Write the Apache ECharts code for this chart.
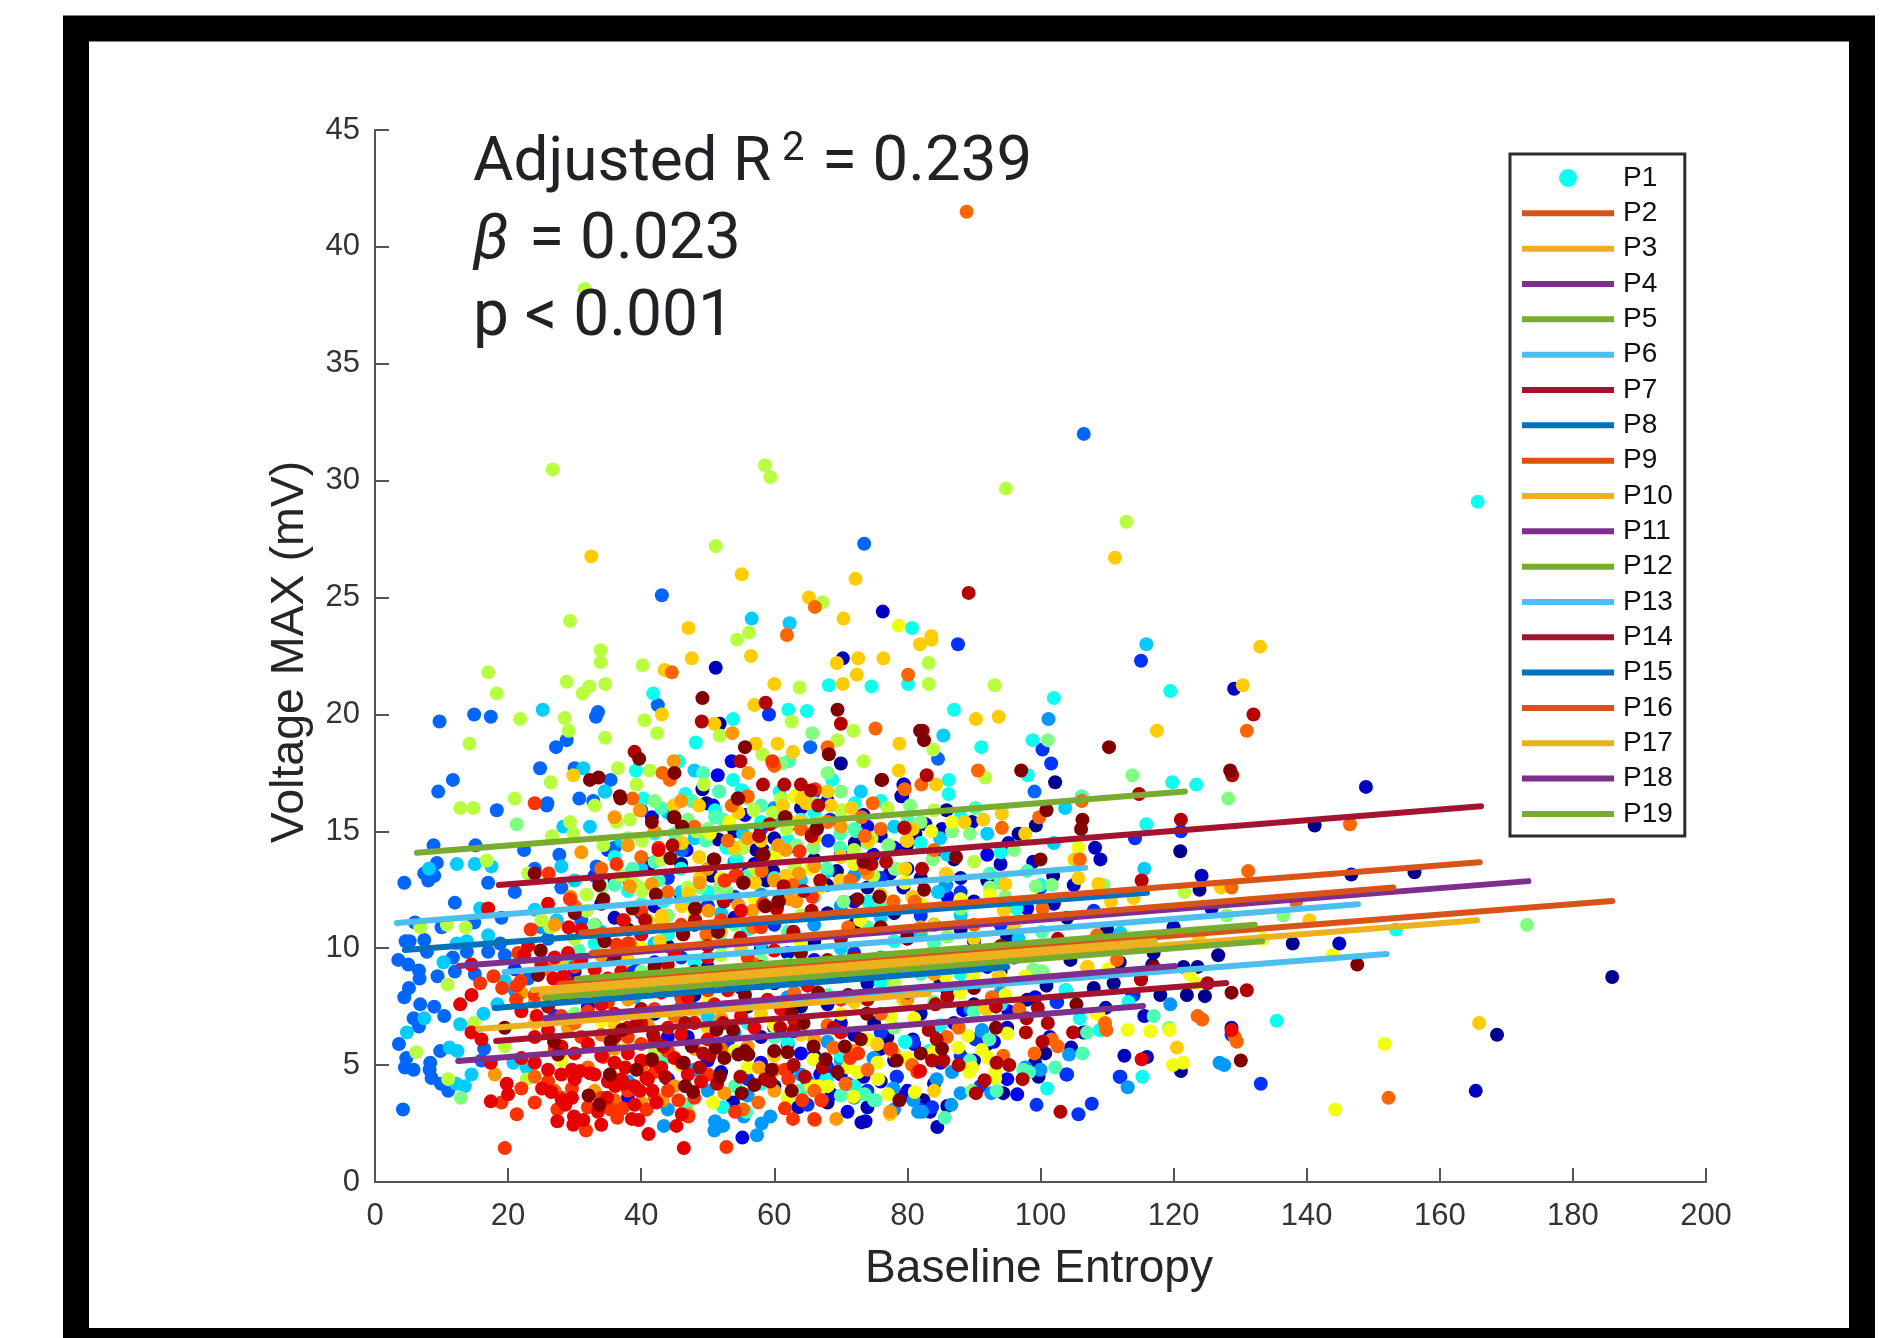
<!DOCTYPE html>
<html>
<head>
<meta charset="utf-8">
<title>Voltage MAX vs Baseline Entropy</title>
<style>html,body{margin:0;padding:0;background:#fff}#chart{width:1899px;height:1338px}</style>
<script src="https://cdn.jsdelivr.net/npm/echarts@6/dist/echarts.min.js"></script>
</head>
<body>
<div id="chart"></div>
<script>
const navy = [49.2,16.8,51.8,19.6,70,17.9,79.4,17,79.1,16.5,73.4,15.7,72.1,14.5,49.8,16.2,51.6,14.65,57.3,14.2,79.9,14.4,77.4,13.2,69.4,13.3,59.8,13.3,41.3,13.6,50.6,13.1,58.8,12.9,67.9,12.7,85.9,15.9,102.2,17.1,121,14.15,141.2,15.25,146.7,13.15,156.2,13.25,99.3,15.25,87,13.8,96.7,14.9,101.9,13.1,123.9,12.5,126.7,9.7,137.9,10.2,121.5,9.2,123.6,9.2,118,8,122,8,124.7,7.95,111,8.5,104.5,9.5,117,9.8,111.9,9.4,94.4,3.8,82.4,3.5,86,3.25,100.9,8.4,100.7,5.5,99.7,4.5,121.1,4.75,185.9,8.77,168.6,6.3,106.4,6.4,116.8,9.3,60,8.5,64,7.5,70,8.8,75,6.8,80,9.5,85,8.5,90,7.6,95,10.5,88,10.8,78,11.5,72,11,66,10.3,58,10,50,10.6,44,10.1,38,10.8,55,9,48,8,42,7.2,62,15.2,66,13.8,74,12.6,82,13,92,12.9,96,11.8,104,11.3,110,10.8,46,13.6,54,15,34,11.9,30,10.6,62,4.8,68,3.4,77,6.2,92,5.9,98,7.8,108,8.3];
const darkBlue = [51.2,22,70.3,22.4,76.3,24.4,129.1,21.1,79.5,17,79.2,16.5,73.1,2.55,73.7,2.6,63.6,3.2,53.8,3.4,73.4,4.5,80.8,6.1,79.4,3.7,112.6,5.4,116,5.35,115.6,7.1,84.5,2.35,109.8,7.45,104.6,5.75,101.4,6.2,95,6.6,106.7,6.4,99.2,5.1,83.4,3,124.2,13.1,108.2,14.3,109,13.8,98.9,13.7,95.2,14.5,89.7,15.4,85.2,15.1,82.7,15.3,81.2,14.9,77.4,13.2,79.4,12.6,105,12.7,120,10.9,144.9,10.2,125.7,11.7,148.9,16.9,165.4,3.9,128.7,6.6,68,7.6,72,6.3,76,5.7,82,7.2,86,8.2,92,9.2,62,9.8,56,7.5,47,6.2,52,4.7,60,4.1,66,5.4,70,4.6,74,8.5,84,11,90,12,62,12.2,54,11.3,46,12.2,36,11.3,60,14.7,64,16,68,11.5,76,14.8,80,10.5,88,13,94,13.6,102,11.9,106,10.2,42,11.8,38,13,57,13.6,50,9.2,58,6.2,64,3.9,74,3.2,78,5.2,84,4.2,90,5.2];
const blue = [53.6,18,51.5,17.4,74.9,14,46.8,14.2,41.6,15.6,46.1,15.2,55.6,15.7,55.2,1.9,78.4,4.5,68.6,3.75,66.9,4.6,103.9,4.6,96.5,3.75,95,4.4,102.5,7.7,99.2,7.9,95.2,7.3,88.4,7.35,58.3,14.2,50.8,16.1,32,7.5,28,7.9,35,9.6,40,10.6,60,6.6,64,5.5,70,6.8,76,4.3,80,3.9,85,5.1,58,5.1,50,5.2,44,4.4,66,9.5,72,12,80,13.4,86,12.2,90,10.3,94,9,56,13.2,62,14.3,68,16.3,74,15.2,78,14.3,84,14.1,92,14,98,11.7,36,12.9,42,9.4,30,9,48,11,55,8.3,71,3,81,5.9,87,6.8,93,6,44,6.2,38,3.6];
const royal = [59.2,20,87.6,23,115.1,22.3,100.3,18.5,101.6,17.9,68.1,14.6,68.4,15.5,112,4.5,107.7,3.35,105.7,2.9,99.4,3.3,114,8,90.2,6.1,83.7,3.2,114.2,14.7,121.1,15,85.8,12.7,102.4,7.7,113.8,8,133.1,4.2,111.9,4.5,104,4.6,78.4,4.5,80.9,6,74,3.9,68,4.9,62,5.9,56,4.4,33,13.1,40,11.5,46,9.6,54,12.2,60,11,66,12.2,72,9.8,78,8.2,84,6.6,88,5.4,128.7,6.3,21,9.1,27,7.1,35,14.2,44,13,50,11.8,58,15.1,66,16.7,70,14,76,13,82,11.4,88,12.4,94,11,100,12.6,108,11.6,39,9.1,48,7.4,53,6,65,3.3,71,4.2,76,6.4,82,3.1,91,4.1];
const azure = [43.1,25.1,9.7,19.7,14.9,20,17.4,19.9,33.2,19.9,33.5,20.1,28.8,18.9,27.2,18.6,24.8,17.7,30,17.7,11.7,17.2,9.5,16.7,42.5,20.4,65.4,18.6,35.4,17.2,30.7,16.4,32.8,16.3,25.9,16.2,73.5,27.3,106.5,32,84.6,18.1,99.1,16.7,4.4,12.8,8.8,14.4,9.3,13.65,7.4,13.2,8.9,13.1,15.1,14.4,17,12.8,12,11.95,5.2,10.3,7.4,10.35,6,11.1,10,10.9,3.5,9.5,5,9.3,6.6,9.05,6.7,8.7,9.4,8.8,5.1,8.3,4.4,7.9,6.8,7.6,8.9,7.5,10.4,7.1,5.8,7,6.6,6.65,3.6,5.9,4.7,5.3,4.5,4.9,5.8,4.8,8.3,5.1,8.2,4.8,8.5,4.45,9.9,4.2,11,3.9,4.2,3.1,9.8,5.6,16.4,5.7,12,9,11.7,9.6,13.8,9.85,7.8,9.85,16,5.2,19.5,9.7,17,9.85,14.9,11.1,18.8,10.2,15,8.9,27.7,14,22.4,14.2,18.3,15.9,25.8,16.1,33.3,13.5,46.1,14.2,4.6,10.3,8,12.9,19,11.3,21,12.4,24,13.4,28,12.6,31,11.2,36,14.3,40,15.9,23,8.7,26,10.4];
const sky = [43.4,2.4,51.1,2.6,52.3,2.4,51,2.2,59.4,2.8,58.1,2.5,57.4,2,55.4,2.8,81.6,3,77.9,4,74.9,5.3,113.1,4.05,119.5,7.6,104.3,5.45,100,4.8,84.4,4.4,86.6,3.3,82.2,3,91.2,6.5,86.7,4.7,92.6,3.8,89.5,7.4,103.8,8.2,126.9,5.1,97.7,4.9,101.2,19.8,127.6,5,85.7,12.65,80.9,3.5,91.2,6.45,25,10.9,21,8.2,60,5.5,64,4.6,68,6,72,3.6,48,4.8,54,6.4,42,8.7,76,9.6,84,9.9,70,11.8,62,7.9,56,3.7,65,4.3,70,5.2,78,3.1,88,3.8,94,8.1,38,4.3,44,3.1,50,3.9,46,7.5,33,11,58,12.3,66,11,72,13.1,60,16,54,13.7];
const capri = [25.2,20.2,56.6,24.1,62.3,23.9,31.3,17.7,34.5,16.7,48,17.6,85.4,19.1,8.1,13.4,12.3,13.6,15,13.6,17.5,13.5,17,10.55,10.3,9.4,7.4,7,4.8,6.4,11.2,5.75,12.4,5.6,16.3,7.2,14.5,4.6,13.5,4.1,12.8,6.75,12.2,4.2,15.8,11.7,13.8,10.3,12.3,10.2,19.5,8.6,18.4,7.6,28,13.5,32.3,15.2,28.3,15.2,34.6,16.7,24,11.65,27.3,11.2,20.8,5.1,22.8,4.9,102,14.5,103.7,16,84.9,14.7,115.6,13.4,84.6,12.4,96.7,10.4,112,10.65,115.9,23,55.3,14.9,40,13.4,46,12.4,52,11.5,58,10.2,64,9.3,70,10,76,11.3,82,10.6,88,11.4,92,9.6,42,10.2,37,14.6,44,15.8,48,14.7,60,15.4,64,12.9,68,13.3,73,16.7,78,15.2,86,14,92,14.9,30,12.9,34,10.7,39,7.9,50,7.1];
const cyan = [41.8,20.9,68.2,21.25,62.1,20.2,64.9,20.15,53.8,19.8,48.2,18.8,45.6,18,39.2,17.6,53.8,17.2,68.7,17.2,46.6,16.6,55.1,16.75,40.3,16.4,80.7,23.7,74.6,21.2,80.1,21.3,87,20.2,91.1,18.6,86.2,17.2,86.2,16.6,102,20.7,98.8,18.9,98.1,17.4,119.5,21,119.8,17.1,123.4,17,165.7,29.1,115.9,15.3,135.5,6.9,115.3,4.5,113.2,7.7,105.9,7,109,6.5,79.7,6,103.8,8.2,96.4,11.7,153.4,10.8,52.3,3.2,67.8,4.4,79.6,6,101,4,84.9,6.7,83.2,5.6,108.9,6.5,60.8,16.7,72.1,16.2,72.3,15,51.1,15.9,52.8,14.3,54.3,13.8,71.9,13.9,38.5,13.3,38,12.45,43.3,12,74.1,12,55.2,16.75,60,13,56,10.8,48,9.4,66,8.6,78,10.3,88,8.9,94,7.6,62,6,58,4.2,36,13.9,42,14.9,46,13.4,50,12.4,58,15.4,62,14.6,66,15.8,76,16.3,82,14.5,88,15.6,94,14.1,100,12.7,33,10.2,40,8.2,56,6.8,70,5.4,72,4.1,76,8.5,84,9.1,44,10.6,52,10.2,29,9.6];
const mint = [49.3,17.5,51.7,16.7,62.2,18,47.6,16.3,43,16,51.1,15.6,49.7,14.6,42,13.7,38.7,13.4,42.6,12.9,69.9,14.9,69.9,14.3,54.3,14.15,52.3,15.5,67.9,13.4,106.2,16.5,90.2,16,92.4,13.2,117,7.1,107,6.4,106.3,5.5,102.2,4.9,93.4,3.9,97.4,4.8,98.3,4.7,92.3,6.1,75.2,3.5,85.6,2.75,89.4,5.2,100.2,10.7,73.6,3.75,75,3.5,55.8,3,46.8,3.3,54.1,4.1,43.6,5.3,30.6,9.9,51.7,16.7,38.6,13.3,46.6,3.3,62,10.7,76,11.8,84,10.2,68,8,56,8.6,46,6.8,60,6.2,36,12.7,40,11.9,45,14.9,48,12,56,13.1,58,16.1,64,15.5,72,15.1,80,15.6,86,13.1,94,12.8,98,13.3,66,12.2,74,10.9,82,8.9,90,7.3,52,8.9,34,8,64,3.9,70,3.7];
const pale = [65.7,19.2,68,17.5,61.1,17.9,55.3,14.4,77.1,14.4,65.9,14.3,78.1,13.4,52.8,12.45,70.4,12,51.8,12.6,63.3,14.4,48.8,12.6,74.9,13.1,101.1,18.9,113.8,17.4,128.2,16.4,80.4,16.1,77.2,14.4,83.8,13.8,99.3,12.65,101.7,12.7,89.4,14.9,92.4,12.6,94.7,12.2,109.5,12.7,128,11.4,136.5,11.4,98.9,9.1,100.3,9,119.3,6.6,89.7,3.9,86.7,15,78.4,13.4,173.1,11,21.3,15.3,12.9,3.6,32.9,11,99.2,9,100,9,44,11.4,58,9.5,72,9,86,10.5,40,9,34,12.6,38,14.7,42,16.3,47,15.5,50,15.1,56,16.4,60,14.1,66,16.2,70,16.7,74,14.5,82,15.4,88,11.7,96,14.2,54,11,62,9.3,78,6.6,84,7.7,48,7.3,30,7.2];
const lime = [26.7,30.48,58.6,30.66,59.4,30.15,51.2,27.2,29.3,24,33.9,22.75,33.9,22.24,40.2,22.1,28.8,21.4,32.2,21.2,31.2,20.9,34.6,21.3,17,21.8,18.3,20.9,21.8,19.8,28.5,19.85,29.1,19.3,34.6,19,14.2,18.75,40.5,19.75,42.4,19.2,54.4,23.2,56.2,23.5,63.8,21.15,67.2,24.8,62.6,19.7,51.8,19.1,71.9,19.3,69.5,18.9,58.2,18.3,73.4,18,36.5,17.7,41.3,17.6,39.3,17,26.4,17.1,21,16.4,49.4,17,94.8,29.66,112.9,28.24,83.2,22.2,83.2,21.3,93.1,21.25,83.9,18.5,91.7,17.3,31.5,38.2,12.8,16,14.8,16,16.8,13.75,23,13.2,6.8,10.9,10.8,11,13.6,10.9,25,11.2,26.3,10.9,31.8,11.6,31.8,12.3,34.3,14.4,40.1,14.6,29.8,14.9,26.6,14.8,29.3,15.4,38.3,15.5,36.3,15.4,10.9,8.45,14.9,6.8,6.2,5.55,11,4.4,19.5,5.8,22.8,4.4,56.9,15.9,48.3,15,55.3,14.3,40.1,12.45,121.6,12.4,74.8,13.1,61.8,15.1,59.8,15.8,61,16.4,39.8,12.6,38.8,12.8,79.6,13.4,74.6,14.7,70.1,15.9,46,10.9,52,9.7,64,11.4,70,9.4,78,8.5,33,16.1,37,13.1,43,13.8,47,12.6,54,16.1,57,13.4,63,13.5,67,15.4,72,14.2,77,16,84,15.9,90,13.7,30,10.4,35,8.7,42,5.6,50,10.3,58,8.6];
const yellow = [78.7,23.8,50.8,3.4,75.6,4.4,75.5,5.1,72.6,4.7,71.1,4.9,66.6,4.1,65.5,4.1,71.9,3.65,77.1,3.75,81.1,3.85,65.9,5.25,75.4,5.9,113.1,6.5,116.5,6.45,119.4,6.5,119.9,5,121.4,5.1,89.1,6.25,95,6.35,87.6,5.75,91.2,5.65,92.2,5.3,89.7,4.9,89.3,4.7,93.2,4.75,93.2,4.45,108.4,7.2,122.4,8.9,123.4,8.5,110.2,9.1,89.9,8.8,93.9,8.8,97.7,8.8,86.7,15.4,83.6,15,79.6,13.4,105.7,14.3,92.4,12.3,143.9,9.7,133.4,10.4,85.7,8.8,87.9,8.1,94.7,8,91.7,7.4,108.7,7.2,77.5,7.1,151.7,5.9,144.3,3.1,63.1,16.5,53.2,15.4,50.3,14.9,65.4,13.4,79.6,12.8,72.9,11.2,63.3,15.4,81,7,70,7.2,60,8.6,54,5.6,46,5,38,5.9,64,10.2,76,9.4,48,11.5,52,13,57,12.1,60,13.9,67,12.6,72,13.6,82,11.9,88,12.1,56,4.9,60,6.7,62,3.6,68,4.1,74,6.1,80,5.3,84,5.6,40,10,44,9,34,6.9,28,5.2,50,7.8];
const gold = [111.2,26.7,81.9,23,83.6,23.35,83.6,23.2,76.4,22.4,90.3,19.8,93.7,19.9,78.8,18.75,78.7,17.6,84.3,17,117.5,19.3,133,22.9,130.4,21.25,32.5,26.76,55.1,26,72.2,25.8,65.2,25,70.4,24.1,47.1,23.7,47.6,22.4,56.5,22.5,43.5,21.9,72.6,22.4,69.4,22.2,72.4,21.7,70.3,21.3,60,21.3,57,20.4,43.1,20,51,19.6,60.5,18.75,57.2,18.75,62.8,18.4,29.8,17.4,68,16.7,94.2,15.75,91.4,15.5,88.6,15.4,97.7,14.9,80.8,15.1,80,14.6,85.8,13.2,94.7,12.75,105.1,13.8,105.7,13,108.7,12.75,114,12.15,110.6,12,127.1,12.6,140.4,11.2,79.7,13.4,80.7,12.2,94.5,11.6,107,9.2,93.7,8.8,120.5,5.75,75.5,5.9,91.7,7.45,79.4,7.8,77.4,2.9,165.9,6.8,107.1,9.2,91.8,7.4,123.8,10.5,64.1,16.4,64.8,16.2,54.6,15.8,48.7,16.1,44.9,16.1,61.3,16.1,68.5,16.1,71.6,16,63.8,15.4,79.9,14.6,74.1,14.6,48.7,13.9,46.1,14.5,61.7,13.1,57.1,12.8,48.8,13,69.9,12.9,47.1,12.35,46.1,11.8,43.1,11.4,43.1,11.2,42.8,10.3,36,6.7,28,9.3,55,10,60,5.4,68,9.2,58,7.2,38,9.5,41,11.2,52,10.7,54,14.3,58,14.6,66,14.7,70,13.9,76,12.3,84,11,90,10.4,96,10.9,44,8.2,50,6.6,64,6.3,72,7.7,78,5.5,84,3.9,24,6.8];
const amber = [53.7,19.2,44.9,18,56.1,17.5,39.8,15.9,38,14.4,41.6,12.75,38.3,12.65,60.6,14.4,61.7,14.2,63.7,13.2,48.8,12.8,54.6,11.85,56.7,11.6,50.1,11.6,62.3,12.1,63.3,12,77.9,12,69.3,2.7,77.4,3,52.5,3.8,57.7,4.9,43.2,3.5,47.1,2.9,18,4.6,24,7.7,27,11,29.4,12.2,34,9.7,38,7.8,41,6.7,47,8.3,52,7,56,5.8,60,3.9,66,6.1,72,5.6,80,7.8,84,8.9,31,14.1,36,15.6,42,15,46,16.3,50,13.4,56,14.7,60,12.9,66,13.5,70,15.2,74,13.2,82,10.9,88,9.7,36,5.7,40,3.4,45,4.1,48,5.7,33,3.9,29,6.6,22,8.1,54,8.4];
const tangerine = [44.6,21.8,61.9,23.4,66.1,24.6,68,18.6,43.2,17.5,44.3,17.2,60,17.8,38.7,16.4,75.2,19.4,80.1,21.7,90.6,17.6,79.6,16.8,82.1,17,131,19.3,88.9,41.5,94.2,15.15,99.8,15.6,106.2,16.3,105.9,13.8,131.2,13.3,128.7,12.6,77.9,12,100.3,11.7,108.5,10.55,138.4,12,111.5,9.5,123.6,7.1,124.3,6.95,109.7,6.8,109.9,6.5,129.5,6,129.2,6.2,94.4,5.4,99.1,5.5,101.7,6.1,102.6,5.8,87.7,6.6,80.7,5,96.8,7.4,92.7,7.9,85.9,6.2,146.5,15.3,152.3,3.6,70.7,4.2,57.6,3.4,66.1,2.65,55.3,3.1,67.1,3.5,68.9,5.75,53,14.6,73.6,14.8,74.8,16.2,73.1,15.6,73.6,13.4,58.1,13.3,62.8,12.7,81.1,12,71.4,12.9,71.1,10.9,56.8,10.9,49.8,10.6,38.3,10.2,56,16.5,53.6,16.1,59.8,17.9,26,9.1,30,6.8,34,6.3,40,4.9,45,7.1,52,5.7,57,9.3,63,8.1,68,6.7,76,7.2,30,11.8,34,13.4,40,13.9,44,12.4,48,15.2,64,15.1,68,15.4,76,15.1,84,14.2,90,11,32,4.9,36,3.5,42,3.6,27,3.9,24,4.5,60,4.8,66,3.9,74,4.8];
const vermil = [59.7,18,66.1,16.8,24,16.2,19.5,1.45,52.8,1.5,31.7,2.2,21.3,2.9,19,3.4,22,4,29.6,4,27.4,3.1,36.4,2.75,37.2,3.15,35.4,3.1,40.8,3.1,45.6,3.5,47.1,2.8,61.6,3.15,62.8,2.7,66,2.7,64.2,3.5,67.1,3.5,17.8,8.8,15.8,8.5,19.1,8.3,21.3,8.4,21.9,8.6,26.1,13.2,23.4,10.8,29.3,12.1,36.3,13.6,21.5,9.8,21.2,7.8,36.3,10.15,38,10.2,52.6,12.9,54.4,13.1,34.3,5.35,54.1,3,62.1,4.4,61.6,4.8,77.6,5.7,71.4,5.3,72.6,5.5,77.4,5.7,81.5,4.7,63.8,14.15,52.5,12.9,54.1,13.1,65.6,14.9,42.6,14.3,65.7,12.2,37.4,11.2,60.3,11.7,58.3,11.9,62.8,10.7,27,5.7,31,6.2,35,7.7,40,5.9,44,3.9,50,8.2,56,9.6,64,9.2,70,7.8,24,3.4,26,4.3,28,3.6,32,3.2,34,3.6,38,3.9,42,4.7,44,5.6,48,3.6,50,4.6,46,7.9,42,7.4,38,6.2,32,7.3,28,7.1,24,8,30,9.2,34,10.6,40,11.6,46,11,52,11.2,58,10.9];
const red = [46.4,1.45,41.1,2.05,17.4,3.45,20,3.75,19.8,4.2,25.1,4,26.5,3.85,27.4,2.6,29.8,2.45,29.9,2.8,31.3,2.65,34,2.45,38.6,2.7,39.6,2.65,33.5,3,39,3.3,42.3,3.4,45.3,2.4,46.1,2.9,28.6,3.3,28.1,3.5,29.6,3.6,34.9,3.6,37.4,4.2,36.1,4.1,39.8,3.9,41.7,3.9,29.6,4.8,30.8,4.75,32.3,4.65,37.6,4.9,40.8,4.45,14.5,9.3,14.5,8,12.8,7.6,17,11.7,29.1,10.9,22.4,9.7,14.5,6.4,16,6.1,17.4,5.1,24.3,7.1,22,7.3,26.8,8.7,28.3,8.8,42.6,14.2,37.3,11.2,115.2,5.25,81.9,4.75,128.7,6.5,30,8,32,8.2,34,7.6,36,7.2,38,6.6,40,6.8,42,6.1,44,6.6,46,6.3,48,6.8,50,6.1,24,6.2,26,6.5,28,5.8,30,5.5,32,5.9,34,5.4,36,5.1,38,5.5,40,5.2,22,5.3,24,5.1,26,4.8,28,4.6,30,4.4,33,4.6,35,4.3,37,4.4,39,4.1,41,4.4,43,4.9,45,5.3,47,4.6,49,4.3,25,9.3,27,9.6,29,9.8,31,9.5,33,9.1,35,8.7,37,9,39,8.3,41,8.6,43,8.1,45,8.5,47,7.9,49,8.4,51,7.6,53,8.2,55,7.1,57,6.6,59,7.8,61,7.4,63,6.9,23,10.1,26,11.9,31,10.8,36,9.6,40,10.6,45,9.8,50,9.6,55,11.6,60,9.9,65,8.4,70,6.4];
const crimson = [58.7,20.5,49.1,19.7,70,19.6,39,18.4,54.9,18,58.3,17,61.5,17,64,17,65.5,16.75,89.2,25.2,82.3,19.3,82.9,17.4,132,20,128.8,17.4,114.8,16.6,66.6,16.1,57.7,14.8,59.3,15.3,54.6,16.4,65.6,14.8,44.7,14.4,66.9,12.9,61.4,12.65,64.4,12.45,52.4,12,48.1,11.7,48.1,11.2,65.6,11.6,60.4,11.7,54.9,10.45,62.9,10.7,46.3,10.6,40.6,11.2,43.6,4.5,48.8,4.9,46.1,5.1,41.6,5.2,54.9,4.5,58.6,4.4,59.4,4.3,51.4,4.2,64.6,4.5,62.9,5,67.3,4.9,50.3,5.4,49.3,5.5,43.3,5.8,56,5.45,60.9,6.6,62.9,6.45,68.9,6.6,52.3,6.8,46.6,6.8,39.3,6.75,41.8,6.3,90.3,3.8,103,3,91.6,4.35,97.3,4.4,95.3,5,93.4,5.1,87.7,5,83.7,5.2,85.4,5.2,100.3,6,104.9,6.4,101.1,6.8,97.8,6.4,93.3,7.5,99.6,7.45,97.9,7,125.1,8.5,115.1,8.7,83.2,6.5,84.4,6.1,84.2,7.6,121.1,15.5,115.2,12.9,79.6,15.15,76.8,13.7,82.2,13.4,115.1,8.66,131,8.2,102.6,10.4,79.5,15.15,74.6,13.6,75.8,12.2,72,9.6,78,9,88,9.4,94,10.1,70,10.4,36,6.2,40,7.4,44,9.3,50,10.1,54,8.7,58,9.2,62,8.7,68,9.5,74,7.8,80,8.1,86,7.9,30,8.5,26,7.5];
const maroon = [49.2,20.7,69.5,20.2,55.6,18.6,39.7,18.1,68.2,18.3,45,17.5,32.3,17.2,33.6,17.3,36.8,16.5,76.2,17.2,82.5,18.9,97.1,17.6,110.3,18.6,128.5,17.6,55.6,5.6,54.6,5.45,56.1,5.45,46.6,4.1,47.8,3.85,33.7,3.3,32.1,3.7,35.4,6,37.1,6.5,19.5,6.6,26.9,6,27.5,5.45,24,13.2,41.6,15.4,45,15.6,46.2,15.2,44.4,13.85,42.2,12.3,34.3,12.1,33.7,12.7,34.5,10.3,24.9,9.9,24.5,8.85,55.4,12.8,58.4,14,51,13.8,48.1,11.7,51.6,10.7,58.6,11.8,60.6,12,72.5,12.1,61.7,15.6,66.4,15.15,52.5,5.3,51.2,5.75,60,5.6,62,5.55,59.6,4.8,57,4.15,55.1,3.8,62.6,3.9,69.5,4.7,67.7,5.25,73,6.1,65.9,5.8,70.6,5.8,64.4,6.8,62.6,7.2,71.1,8,73.9,7.2,66.6,8.1,55.6,8,53.8,6.5,51.3,6.5,46.4,5.1,41.6,5.25,47.6,5.8,51.8,4.5,35.3,4.6,39.3,4.8,100.9,15.9,106.3,15.5,106.1,15.1,100,13.8,82.5,12.5,87.3,13.9,75.8,12.2,128.7,8.1,105.4,7.6,93.3,6.6,85.2,5.7,82,5.5,78.8,3.5,147.6,9.3,117,9.2,130.1,5.2,78.4,5.2,54.5,16.4,44.9,15.6,50.9,13.8,58.2,14,61.6,15.6,66.4,15.1,55.3,12.8,60.7,12,58.7,11.8,38.7,11.7,46.3,10.6,51.5,10.7,81.9,19.3,36.9,16.4,73.4,13.7,76.1,17.2,64,9.8,70,9.1,80,10.4,90,8.3,96,9.6,30,11.5,36,9.7,42,9.2,48,9,58,8.5,84,9.3,76,10.9];

const markerColors = ['#000090','#0000BF','#0000F0','#0033FF','#0066FF','#0099FF','#00CCFF','#0DFFEE','#4DFFB3','#80FF80','#B8FF40','#F2FF0D','#FFCC00','#FF9900','#FF6600','#FF3300','#E60000','#B30000','#800000'];
const markerLists = [navy,darkBlue,blue,royal,azure,sky,capri,cyan,mint,pale,lime,yellow,gold,amber,tangerine,vermil,red,crimson,maroon];
const markerNames = ['S2','S3','S4','S5','S6','S7','S8','P1','S9','S10','S11','S12','S13','S14','S15','S16','S17','S18','S19'];

// Regression lines: name, x0, y0, x1, y1.
const lineNames = ['P2','P3','P4','P5','P6','P7','P8','P9','P10','P11','P12','P13','P14','P15','P16','P17','P18','P19','P20'];
const lineX0 = [27.8,25,12.6,25.5,27.8,18.2,4.5,32.6,15.5,12.5,30.3,19.5,18.6,18,31,23.7,25.5,6.3,3.3];
const lineY0 = [8.47,8,9.24,7.87,7,6.03,9.92,9.8,6.54,5.18,8.68,8.98,12.7,7.44,10.66,8.21,7,14.08,11.08];
const lineX1 = [185.9,165.6,173.3,133.3,152,127.9,116,153,83.2,115.4,132.2,147.7,166.2,95,166,117.2,120.2,121.7,106.7];
const lineY1 = [12.02,11.2,12.87,10.3,9.75,8.51,12.37,12.6,8.05,7.53,11,11.88,16.07,9.2,13.68,10.31,9.24,16.7,13.44];
const lineColors = ['#D95319','#EDB120','#7E2F8E','#77AC30','#4DBEEE','#A2142F','#0072BD'];

const legendLabels = ['P1','P2','P3','P4','P5','P6','P7','P8','P9','P10','P11','P12','P13','P14','P15','P16','P17','P18','P19'];
const xLabel = 'Baseline Entropy';
const yLabel = 'Voltage MAX (mV)';

function pairs(flat){const out=[];for(let i=0;i<flat.length;i+=2)out.push([flat[i],flat[i+1]]);return out;}

const series = [];
markerLists.forEach((list,i)=>{
  series.push({type:'scatter',name:markerNames[i],data:pairs(list),symbol:'circle',symbolSize:14,
    itemStyle:{color:markerColors[i],opacity:1},silent:true,animation:false,z:2});
});
lineNames.forEach((name,i)=>{
  series.push({type:'line',name,data:[[lineX0[i],lineY0[i]],[lineX1[i],lineY1[i]]],symbol:'none',
    lineStyle:{color:lineColors[i%7],width:6,cap:'round'},itemStyle:{color:lineColors[i%7]},silent:true,animation:false,z:3});
});

const legendBar = 'path://M0,0H92V6H0Z';
const chart = echarts.init(document.getElementById('chart'),null,{renderer:'canvas'});
const ink = '#212225';
chart.setOption({
  backgroundColor:'#fff',
  animation:false,
  grid:{left:375,right:193,top:130,bottom:156,containLabel:false},
  xAxis:{type:'value',min:0,max:200,interval:20,name:xLabel,nameLocation:'middle',nameGap:64,
    nameTextStyle:{fontFamily:'Liberation Sans',fontSize:46,color:'#262626',padding:[0,3,0,0]},
    axisLine:{show:true,lineStyle:{color:'#555',width:2}},
    axisTick:{show:true,inside:true,length:14,lineStyle:{color:'#555',width:2}},
    axisLabel:{fontFamily:'Liberation Sans',fontSize:31,color:'#333',margin:19},
    splitLine:{show:false}},
  yAxis:{type:'value',min:0,max:45,interval:5,name:yLabel,nameLocation:'middle',nameGap:61,
    nameTextStyle:{fontFamily:'Liberation Sans',fontSize:46.5,color:'#262626',padding:[0,0,0,8]},
    axisLine:{show:true,lineStyle:{color:'#555',width:2}},
    axisTick:{show:true,inside:true,length:14,lineStyle:{color:'#555',width:2}},
    axisLabel:{fontFamily:'Liberation Sans',fontSize:31,color:'#333',margin:15},
    splitLine:{show:false}},
  legend:{show:true,orient:'vertical',left:1510,top:154,selectedMode:false,
    data:legendLabels.map((n,i)=>i===0?{name:n,icon:'circle'}:{name:n,icon:legendBar}),
    itemWidth:92,itemHeight:18,itemGap:7.33,padding:[10,12,8,12],
    backgroundColor:'#fff',borderColor:'#2b2b2b',borderWidth:3,
    textStyle:{fontFamily:'Liberation Sans',fontSize:28,color:'#111',padding:[0,0,0,4]}},
  tooltip:{show:false},
  series,
  graphic:[
    {type:'rect',silent:true,z:-10,shape:{x:76,y:28.5,width:1786,height:1312.5},
      style:{fill:'none',stroke:'#000',lineWidth:26}},
    {type:'text',silent:true,z:50,x:473,y:164,style:{text:'Adjusted R',font:'400 62px Roboto',fill:ink,verticalAlign:'middle'}},
    {type:'text',silent:true,z:50,x:782,y:150,style:{text:'2',font:'400 40px Roboto',fill:ink,verticalAlign:'middle'}},
    {type:'text',silent:true,z:50,x:822,y:164,style:{text:'= 0.239',font:'400 63.5px Roboto',fill:ink,verticalAlign:'middle'}},
    {type:'text',silent:true,z:50,x:473,y:242,style:{text:'β',font:'italic 400 63px Roboto',fill:ink,verticalAlign:'middle'}},
    {type:'text',silent:true,z:50,x:529,y:242,style:{text:'= 0.023',font:'400 64px Roboto',fill:ink,verticalAlign:'middle'}},
    {type:'text',silent:true,z:50,x:473,y:319,style:{text:'p < 0.001',font:'400 64px Roboto',fill:ink,verticalAlign:'middle'}}
  ]
});
</script>
</body>
</html>
